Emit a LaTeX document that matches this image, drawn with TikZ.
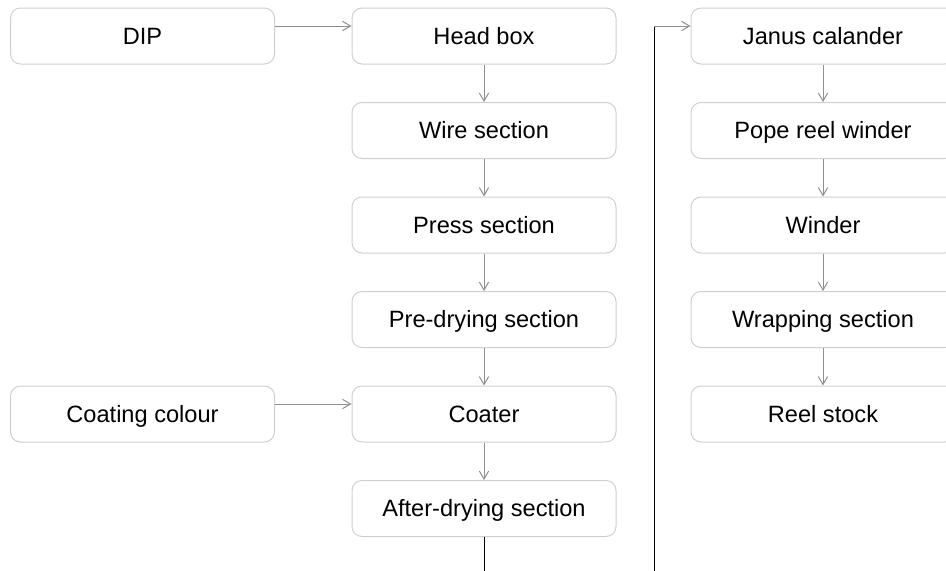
\documentclass[tikz,border=0pt]{standalone}
\usepackage{fontspec}
\setmainfont{Liberation Sans}
\usetikzlibrary{arrows.meta,calc}
\definecolor{boxline}{HTML}{CFCFCF}
\definecolor{connline}{HTML}{8F8F8F}
\begin{document}
\begin{tikzpicture}[x=0.75pt,y=-0.75pt,
  stepbox/.style={draw=boxline,line width=0.75pt,rounded corners=7.5pt,
    minimum width=198pt,minimum height=42pt,inner sep=0pt,
    text height=12.7pt,text depth=0pt,
    font=\fontsize{17.7}{20}\selectfont},
  conn/.style={draw=connline,line width=0.75pt,
    -{Straight Barb[length=6pt,width=7pt,line width=0.75pt]}},
  feed/.style={draw=black,line width=0.75pt}]
\useasboundingbox (0,0) rectangle (946,571);
% left column
\node[stepbox] (dip) at (142.5,36) {DIP};
\node[stepbox] (coat) at (142.5,414) {Coating colour};
% middle column
\node[stepbox] (head) at (484,36) {Head box};
\node[stepbox] (wire) at (484,130.5) {Wire section};
\node[stepbox] (press) at (484,225) {Press section};
\node[stepbox] (pre) at (484,319.5) {Pre-drying section};
\node[stepbox] (coater) at (484,414) {Coater};
\node[stepbox] (after) at (484,508.5) {After-drying section};
% right column
\node[stepbox] (janus) at (823,36) {Janus calander};
\node[stepbox] (pope) at (823,130.5) {Pope reel winder};
\node[stepbox] (winder) at (823,225) {Winder};
\node[stepbox] (wrap) at (823,319.5) {Wrapping section};
\node[stepbox] (reel) at (823,414) {Reel stock};
% connectors
\draw[conn] ($(dip.east)+(0,-10)$) -- ($(head.west)+(0,-10)$);
\draw[conn] ($(coat.east)+(0,-10)$) -- ($(coater.west)+(0,-10)$);
\draw[conn] (head) -- (wire);
\draw[conn] (wire) -- (press);
\draw[conn] (press) -- (pre);
\draw[conn] (pre) -- (coater);
\draw[conn] (coater) -- (after);
\draw[conn] (janus) -- (pope);
\draw[conn] (pope) -- (winder);
\draw[conn] (winder) -- (wrap);
\draw[conn] (wrap) -- (reel);
% feed lines
\coordinate (outA) at (484,571);
\coordinate (inB) at (654,571);
\coordinate (corner) at (654,26);
\draw[feed] (after.south) -- (outA);
\draw[feed] (inB) -- (corner);
\draw[conn] (corner) -- ($(janus.west)+(0,-10)$);
\end{tikzpicture}
\end{document}
